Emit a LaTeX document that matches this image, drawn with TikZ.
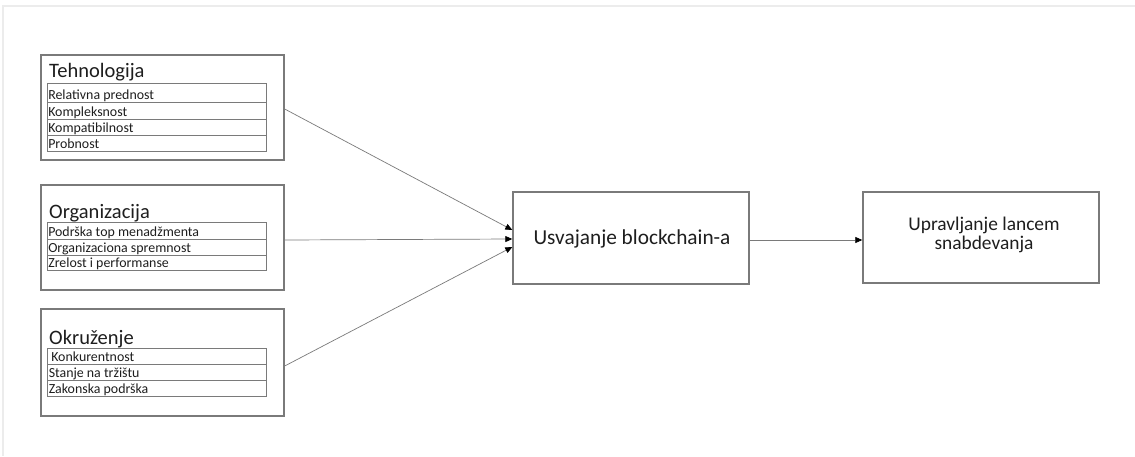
\documentclass[tikz,border=0pt]{standalone}
\usepackage{fontspec}
\setmainfont{Carlito}
\usetikzlibrary{arrows.meta}
\definecolor{txt}{HTML}{1E1E1E}
\definecolor{boxline}{HTML}{7A7A7A}
\definecolor{frameline}{HTML}{ECECEC}
\tikzset{
  box/.style={draw=boxline, line width=1.4pt, fill=white, inner sep=0pt},
  cell/.style={draw=boxline, line width=0.9pt, minimum width=219pt, inner sep=0pt},
  title/.style={font=\fontsize{20.5}{24}\selectfont, text=txt, inner sep=0pt},
  item/.style={font=\fontsize{13.9}{16}\selectfont, text=txt, inner sep=0pt},
  big/.style={font=\fontsize{21.3}{25}\selectfont, text=txt, inner sep=0pt, align=center},
  mid/.style={font=\fontsize{19.4}{19}\selectfont, text=txt, inner sep=0pt, align=center},
  conn/.style={draw=boxline, line width=0.7pt, -{Triangle[length=7pt,width=6pt,color=black]}},
}
\newcommand\crow[5]{% name, top, bottom, text, xcenter
  \node[cell, minimum height={#3-#2}] (#1) at (#5,{(#2+#3)/2}) {};
  \node[item, anchor=base west] (#1t) at ([xshift=1.5pt,yshift=3.3pt]#1.south west) {#4};}
\begin{document}
\begin{tikzpicture}[x=1pt,y=-1pt]
\useasboundingbox[fill=white] (0,0) rectangle (1135,456);
\draw[frameline, line width=2pt] (3,456) -- (3,6) -- (1135,6);

% Tehnologija
\node[box, minimum width=243pt, minimum height=105pt] (teh) at (162.5,107.5) {};
\node[title, anchor=base west] (tehT) at (49,77.3) {Tehnologija};
\crow{t1}{83}{102.7}{Relativna prednost}{156.5}
\crow{t2}{102.7}{119}{Kompleksnost}{156.5}
\crow{t3}{119}{135}{Kompatibilnost}{156.5}
\crow{t4}{135}{151}{Probnost}{156.5}

% Organizacija
\node[box, minimum width=243pt, minimum height=105pt] (org) at (162.5,237.5) {};
\node[title, anchor=base west] (orgT) at (49,218.3) {Organizacija};
\crow{o1}{222}{239}{Podrška top menadžmenta}{156.5}
\crow{o2}{239}{255}{Organizaciona spremnost}{156.5}
\crow{o3}{255}{270}{Zrelost i performanse}{156.5}

% Okruzenje
\node[box, minimum width=243pt, minimum height=107pt] (okr) at (162.5,362.5) {};
\node[title, anchor=base west] (okrT) at (49,344) {Okruženje};
\crow{k1}{348}{364}{\hspace{2.5pt}Konkurentnost}{157}
\crow{k2}{364}{380}{Stanje na tržištu}{157}
\crow{k3}{380}{396}{Zakonska podrška}{157}

% Usvajanje
\node[box, minimum width=236pt, minimum height=92pt] (usv) at (631,238) {};
\node[big] (usvT) at (632,239) {Usvajanje blockchain-a};

% Upravljanje
\node[box, minimum width=236pt, minimum height=91pt] (upr) at (981,237.5) {};
\node[mid] (uprT) at (984,235) {Upravljanje lancem\\snabdevanja};

% connectors
\draw[conn] ([yshift=-1.5pt]teh.east) -- ([yshift=8pt]usv.west);
\draw[conn] ([yshift=-2.5pt]org.east) -- ([yshift=-1pt]usv.west);
\draw[conn] ([yshift=-3.5pt]okr.east) -- ([yshift=-9pt]usv.west);
\draw[conn] ([yshift=-2pt]usv.east) -- ([yshift=-2.5pt]upr.west);
\end{tikzpicture}
\end{document}
